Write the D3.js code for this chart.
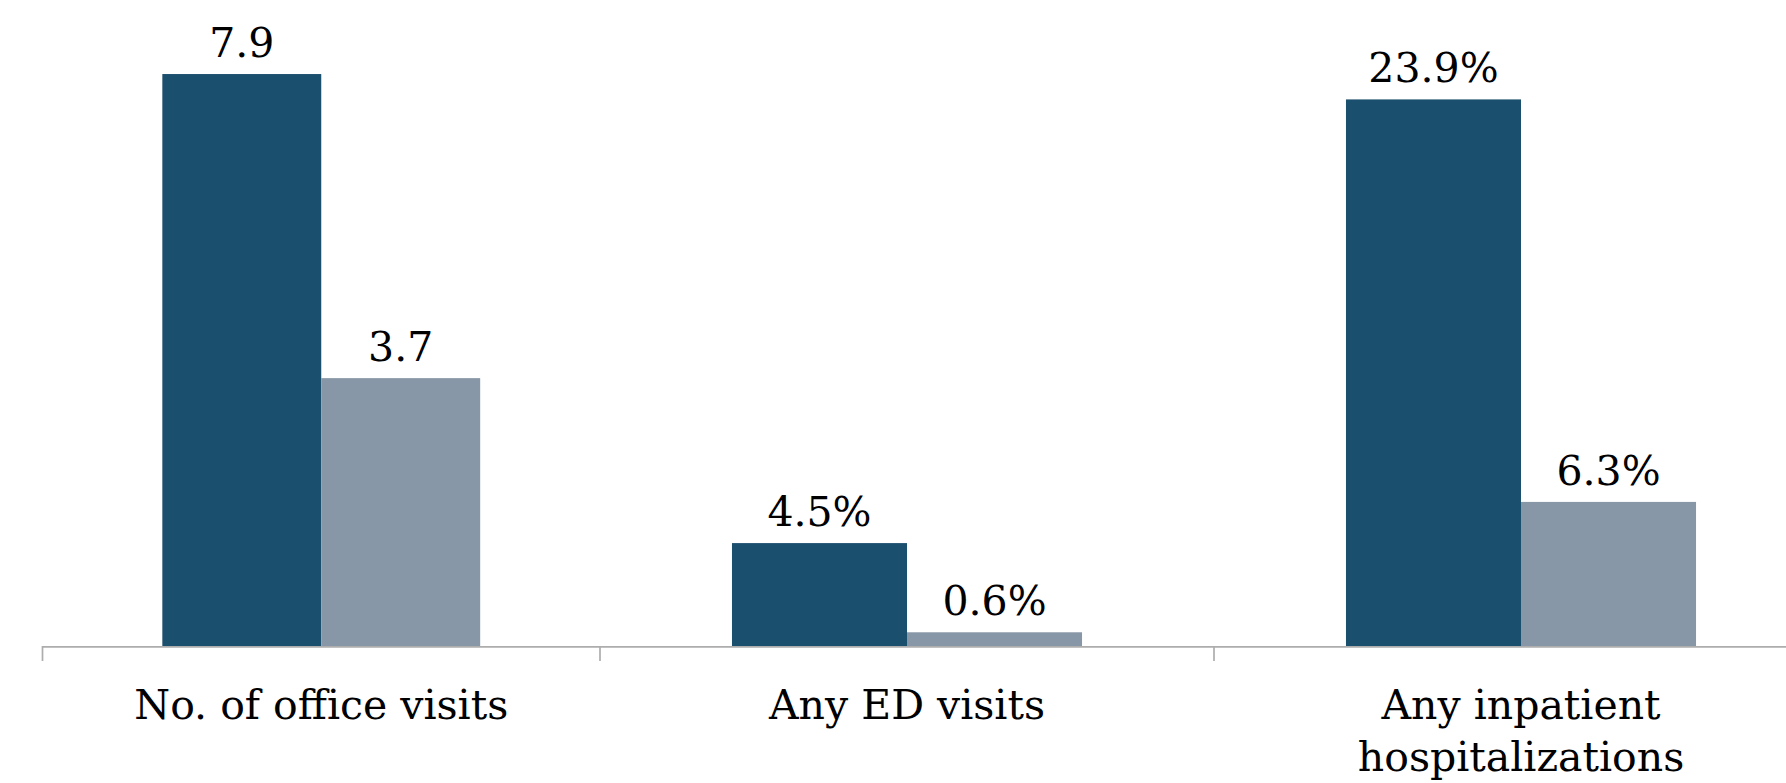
<!DOCTYPE html>
<html>
<head>
<meta charset="utf-8">
<script src="https://cdn.jsdelivr.net/npm/d3@7"></script>
<style>
  html, body { margin: 0; padding: 0; background: #ffffff; }
  svg { display: block; }
  text { font-family: "DejaVu Serif", "Liberation Serif", serif; fill: #000; }
</style>
</head>
<body>
<svg id="chart" width="1786" height="783"></svg>
<script>
// ---- data ----
const categories = ["No. of office visits", "Any ED visits", "Any inpatient hospitalizations"];
const seriesNames = ["Group 1", "Group 2"];
const group1Values = [7.9, 4.5, 23.9];
const group2Values = [3.7, 0.6, 6.3];
const valueUnits = ["", "%", "%"];
const seriesColors = ["#1b4f6e", "#8897a7"];

// ---- layout ----
const W = 1786, H = 783;
const baseY = 646;
const svg = d3.select("#chart");

// left block: count measure; right block: percentage measures
const countCats = [categories[0]];
const pctCats = [categories[1], categories[2]];

const xCount = d3.scaleBand().domain(countCats).range([42.5, 600]).padding(0);
const xPct = d3.scaleBand().domain(pctCats).range([600, 1828]).padding(0);

const yCount = d3.scaleLinear().domain([0, 9]).range([baseY, baseY - 9 * 72.4]);
const yPct = d3.scaleLinear().domain([0, 28]).range([baseY, baseY - 28 * 22.87]);

const rows = categories.map((c, i) => ({
  cat: c,
  x: i === 0 ? xCount : xPct,
  y: i === 0 ? yCount : yPct,
  unit: valueUnits[i],
  vals: [group1Values[i], group2Values[i]]
}));

rows.forEach(r => {
  const sub = d3.scaleBand().domain(seriesNames)
    .range([r.x(r.cat), r.x(r.cat) + r.x.bandwidth()])
    .paddingInner(0).paddingOuter(0.754);
  const g = svg.append("g");
  seriesNames.forEach((s, j) => {
    const v = r.vals[j];
    g.append("rect")
      .attr("x", sub(s))
      .attr("y", r.y(v))
      .attr("width", sub.bandwidth())
      .attr("height", r.y(0) - r.y(v))
      .attr("fill", seriesColors[j]);
    g.append("text")
      .attr("x", sub(s) + sub.bandwidth() / 2)
      .attr("y", r.y(v) - 17)
      .attr("text-anchor", "middle")
      .attr("font-size", 41)
      .text(d3.format(".1f")(v) + r.unit);
  });
});

// ---- category axis ----
const axis = svg.append("g").attr("stroke", "#adadad").attr("stroke-width", 1.7);
axis.append("line")
  .attr("x1", xCount.range()[0]).attr("x2", W)
  .attr("y1", baseY + 0.8).attr("y2", baseY + 0.8);
const tickXs = [xCount(categories[0]), xPct(categories[1]), xPct(categories[2])];
tickXs.forEach(tx => {
  axis.append("line")
    .attr("x1", tx).attr("x2", tx)
    .attr("y1", baseY).attr("y2", baseY + 15);
});

// category labels with wrapping
rows.forEach(r => {
  const cx = r.x(r.cat) + r.x.bandwidth() / 2;
  const t = svg.append("text")
    .attr("x", cx).attr("y", 719)
    .attr("text-anchor", "middle")
    .attr("font-size", 41);
  const words = r.cat.split(" ");
  const maxW = r.x.bandwidth() * 0.92;
  let line = [];
  let lineNo = 0;
  let tspan = t.append("tspan").attr("x", cx).attr("y", 719);
  words.forEach(w => {
    line.push(w);
    tspan.text(line.join(" "));
    if (tspan.node().getComputedTextLength() > maxW && line.length > 1) {
      line.pop();
      tspan.text(line.join(" "));
      line = [w];
      lineNo++;
      tspan = t.append("tspan").attr("x", cx).attr("y", 719 + lineNo * 52).text(w);
    }
  });
});
</script>
</body>
</html>
